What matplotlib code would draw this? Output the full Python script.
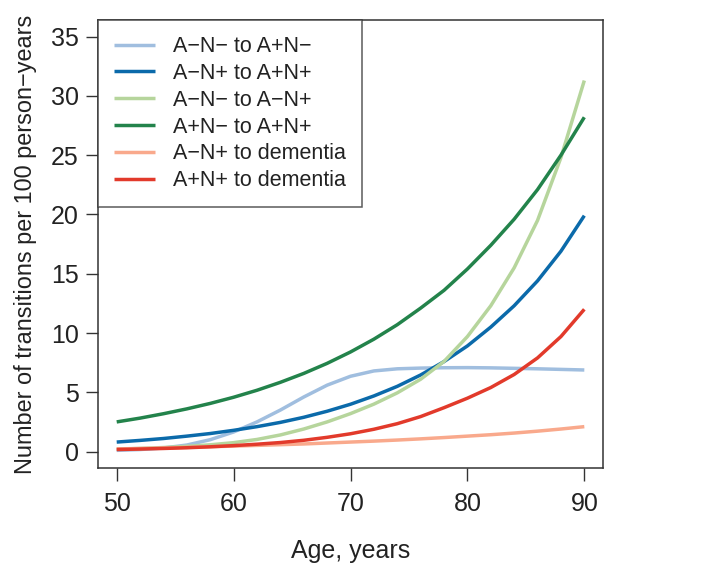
import matplotlib
matplotlib.use("Agg")
import matplotlib.pyplot as plt

plt.rcParams['font.family'] = ['Liberation Sans', 'DejaVu Sans']

age = [50, 52, 54, 56, 58, 60, 62, 64, 66, 68, 70, 72, 74, 76, 78, 80, 82, 84, 86, 88, 90]

# transitions per 100 person-years
an_neg_to_ap_nneg = [0.10, 0.17, 0.30, 0.55, 1.0, 1.65, 2.5, 3.5, 4.6, 5.6, 6.35,
                     6.8, 6.98, 7.04, 7.07, 7.08, 7.06, 7.02, 6.98, 6.93, 6.88]
an_pos_to_ap_npos = [0.80, 0.94, 1.10, 1.30, 1.52, 1.79, 2.10, 2.46, 2.89, 3.40, 3.99,
                     4.69, 5.50, 6.46, 7.59, 8.91, 10.5, 12.3, 14.4, 16.9, 19.9]
an_neg_to_an_pos = [0.20, 0.26, 0.34, 0.44, 0.57, 0.75, 1.02, 1.40, 1.90, 2.50, 3.20,
                    4.0, 4.95, 6.1, 7.6, 9.7, 12.3, 15.5, 19.5, 24.8, 31.3]
ap_neg_to_ap_pos = [2.50, 2.82, 3.19, 3.60, 4.06, 4.58, 5.17, 5.84, 6.59, 7.44, 8.40,
                    9.48, 10.7, 12.1, 13.6, 15.4, 17.4, 19.6, 22.1, 25.0, 28.2]
an_pos_to_dem = [0.22, 0.26, 0.30, 0.35, 0.41, 0.46, 0.52, 0.58, 0.64, 0.72, 0.80,
                 0.88, 0.97, 1.07, 1.18, 1.30, 1.42, 1.56, 1.72, 1.90, 2.10]
ap_pos_to_dem = [0.17, 0.21, 0.26, 0.32, 0.40, 0.50, 0.62, 0.76, 0.95, 1.2, 1.5,
                 1.88, 2.35, 2.95, 3.7, 4.5, 5.4, 6.5, 7.9, 9.7, 12.0]

labels = ["A\u2212N\u2212 to A+N\u2212", "A\u2212N+ to A+N+", "A\u2212N\u2212 to A\u2212N+",
          "A+N\u2212 to A+N+", "A\u2212N+ to dementia", "A+N+ to dementia"]
colors = ["#a0bedf", "#0b6aaa", "#b6d59c", "#23834b", "#f9a98c", "#e23a2b"]
series = [an_neg_to_ap_nneg, an_pos_to_ap_npos, an_neg_to_an_pos,
          ap_neg_to_ap_pos, an_pos_to_dem, ap_pos_to_dem]

fig = plt.figure(figsize=(7.02, 5.73), dpi=100)
ax = fig.add_axes([0.1396, 0.183, 0.7194, 0.782])

for s, c, lab in zip(series, colors, labels):
    ax.plot(age, s, color=c, lw=2.5, label=lab, solid_capstyle='butt')

ax.set_xlim(48.4, 91.6)
ax.set_ylim(-1.4, 36.4)
ax.set_xticks([50, 60, 70, 80, 90])
ax.set_yticks([0, 5, 10, 15, 20, 25, 30, 35])
ax.tick_params(direction='out', length=9, width=1, labelsize=18, color='#333333',
               labelcolor='#222222', pad=5)
ax.tick_params(axis='x', pad=8)
for sp in ax.spines.values():
    sp.set_linewidth(1.1)
    sp.set_color('#333333')

ax.set_xlabel("Age, years", fontsize=18, color='#222222', labelpad=17)
ax.set_ylabel("Number of transitions per 100 person\u2212years", fontsize=16.9,
              color='#222222', labelpad=10)

leg = ax.legend(loc='upper left', fontsize=15.5, frameon=True, fancybox=False,
                edgecolor='#333333', handlelength=1.9, handletextpad=0.85,
                labelspacing=0.27, borderpad=0.75, borderaxespad=0)
leg.get_frame().set_linewidth(1.1)
for t in leg.get_texts():
    t.set_color('#222222')

fig.savefig("out.png", dpi=100)
